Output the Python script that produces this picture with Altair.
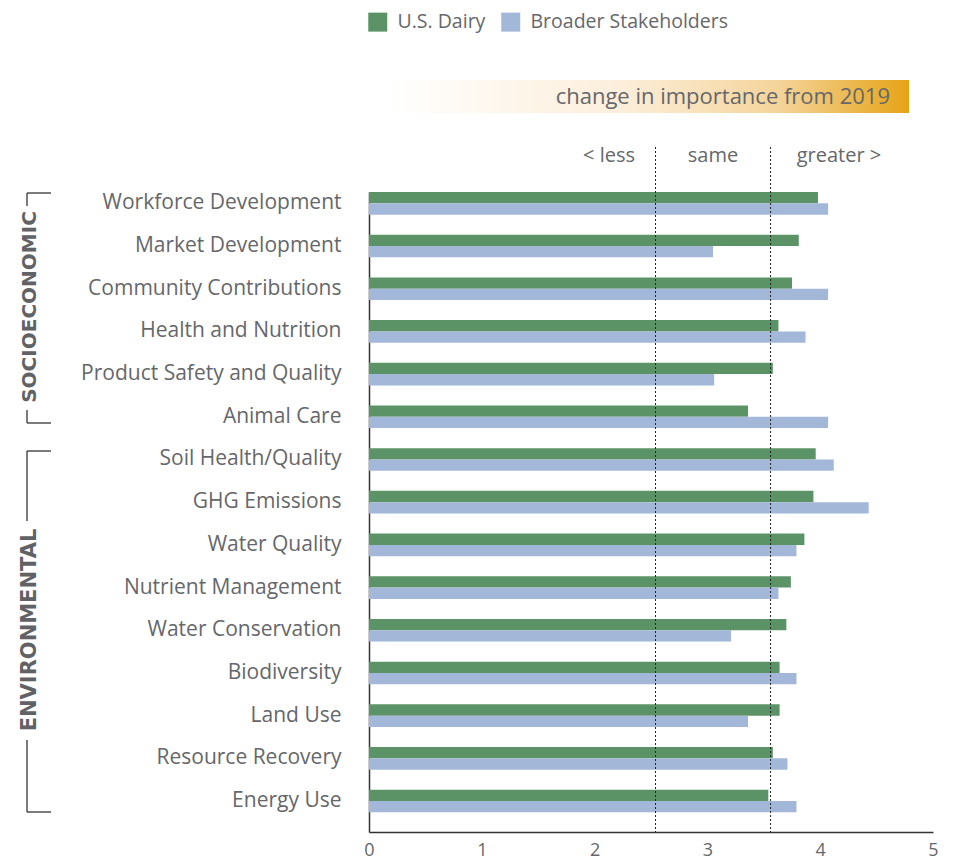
import altair as alt
import pandas as pd

# ---------------- data ----------------
categories = [
    "Workforce Development", "Market Development", "Community Contributions",
    "Health and Nutrition", "Product Safety and Quality", "Animal Care",
    "Soil Health/Quality", "GHG Emissions", "Water Quality", "Nutrient Management",
    "Water Conservation", "Biodiversity", "Land Use", "Resource Recovery", "Energy Use",
]
us_dairy = [3.98, 3.81, 3.75, 3.63, 3.58, 3.36, 3.96, 3.94, 3.86, 3.74, 3.70, 3.64, 3.64, 3.58, 3.54]
broader = [4.07, 3.05, 4.07, 3.87, 3.06, 4.07, 4.12, 4.43, 3.79, 3.63, 3.21, 3.79, 3.36, 3.71, 3.79]
series = ["U.S. Dairy", "Broader Stakeholders"]
colors = ["#5B9367", "#A3B8D8"]
x_ticks = [0, 1, 2, 3, 4, 5]
thresholds = [2.54, 3.56]
zone_labels = ["< less", "same", "greater >"]
groups = ["SOCIOECONOMIC", "ENVIRONMENTAL"]
header_text = "change in importance from 2019"

rows = []
for c, a, b in zip(categories, us_dairy, broader):
    rows.append({"category": c, "series": series[0], "value": a})
    rows.append({"category": c, "series": series[1], "value": b})
df = pd.DataFrame(rows)

FONT = "Open Sans"
GRAY = "#66676A"
LINE = "#333333"
W, H = 564, 640
OX, OY = 369, 192  # absolute position of plot origin on the page


def one(text=""):
    return alt.Chart(pd.DataFrame({"t": [text]}))


bars = alt.Chart(df).mark_bar().encode(
    x=alt.X(
        "value:Q",
        scale=alt.Scale(domain=[0, 5], nice=False),
        axis=alt.Axis(values=x_ticks, format="d", title=None, ticks=False, grid=False,
                      domainColor=LINE, domainWidth=1.5, labelFontSize=18, labelColor=GRAY,
                      labelPadding=9, labelFont=FONT, labelFlush=False),
    ),
    y=alt.Y(
        "category:N", sort=categories,
        scale=alt.Scale(paddingInner=0.47, paddingOuter=0.23, align=0),
        axis=alt.Axis(title=None, ticks=False, grid=False, domainColor=LINE, domainWidth=1.5,
                      labelFontSize=21, labelColor=GRAY, labelPadding=28, labelFont=FONT,
                      labelLimit=400),
    ),
    yOffset=alt.YOffset("series:N", sort=series, scale=alt.Scale(paddingInner=0, paddingOuter=0)),
    color=alt.Color(
        "series:N", sort=series,
        scale=alt.Scale(domain=series, range=colors),
        legend=alt.Legend(orient="none", legendX=-1, legendY=-180, direction="horizontal",
                          title=None, symbolType="square", symbolSize=361, symbolStrokeWidth=0,
                          labelFontSize=19.5, labelColor=GRAY, labelFont=FONT, labelOffset=10,
                          labelLimit=400, columnPadding=15, padding=0),
    ),
)

rules = alt.Chart(pd.DataFrame({"t": thresholds})).mark_rule(
    color="#222222", strokeWidth=1, strokeDash=[2, 2]
).encode(x="t:Q", y=alt.value(147 - OY), y2=alt.value(H))

banner = one().mark_rect(
    color=alt.Gradient(
        gradient="linear", x1=0, x2=1, y1=0, y2=0,
        stops=[
            alt.GradientStop(offset=0, color="#FFFFFF"),
            alt.GradientStop(offset=0.45, color="#FCEEDB"),
            alt.GradientStop(offset=0.75, color="#F4D49A"),
            alt.GradientStop(offset=1, color="#E6A315"),
        ],
    )
).encode(x=alt.value(385 - OX), x2=alt.value(909 - OX), y=alt.value(80 - OY), y2=alt.value(113 - OY))

header = one(header_text).mark_text(
    align="right", baseline="middle", fontSize=22, font=FONT, color=GRAY
).encode(text="t:N", x=alt.value(890 - OX), y=alt.value(97 - OY))

zone_x = [609, 713, 839]
zones = [
    one(lbl).mark_text(align="center", baseline="middle", fontSize=20, font=FONT, color=GRAY)
    .encode(text="t:N", x=alt.value(px - OX), y=alt.value(156 - OY))
    for lbl, px in zip(zone_labels, zone_x)
]

group_y = [307, 630]
group_size = [20, 21]
group_text = [
    one(g).mark_text(angle=270, align="center", baseline="middle", fontSize=fs, font="DejaVu Sans",
                     fontWeight="bold", color="#616265")
    .encode(text="t:N", x=alt.value(30 - OX), y=alt.value(py - OY))
    for g, py, fs in zip(groups, group_y, group_size)
]


def seg(x1, y1, x2, y2):
    return one().mark_rule(color=LINE, strokeWidth=1.3).encode(
        x=alt.value(x1 - OX), x2=alt.value(x2 - OX), y=alt.value(y1 - OY), y2=alt.value(y2 - OY)
    )


brackets = [
    seg(27, 193, 51, 193), seg(27, 193, 27, 206), seg(27, 410, 27, 423), seg(27, 423, 51, 423),
    seg(27, 451, 51, 451), seg(27, 451, 27, 521), seg(27, 740, 27, 812), seg(27, 812, 51, 812),
]

chart = alt.layer(
    bars, rules, banner, header, *zones, *group_text, *brackets
).properties(
    width=W, height=H,
    autosize=alt.AutoSizeParams(type="none"),
    padding={"left": OX - 8, "top": OY - 8, "right": 14, "bottom": 30},
    view=alt.ViewBackground(stroke="transparent", strokeWidth=0, strokeOpacity=0),
).configure_view(stroke="transparent", strokeWidth=0, strokeOpacity=0).configure(background="white")

chart.save("out.html", embed_options={"renderer": "svg", "actions": False})
